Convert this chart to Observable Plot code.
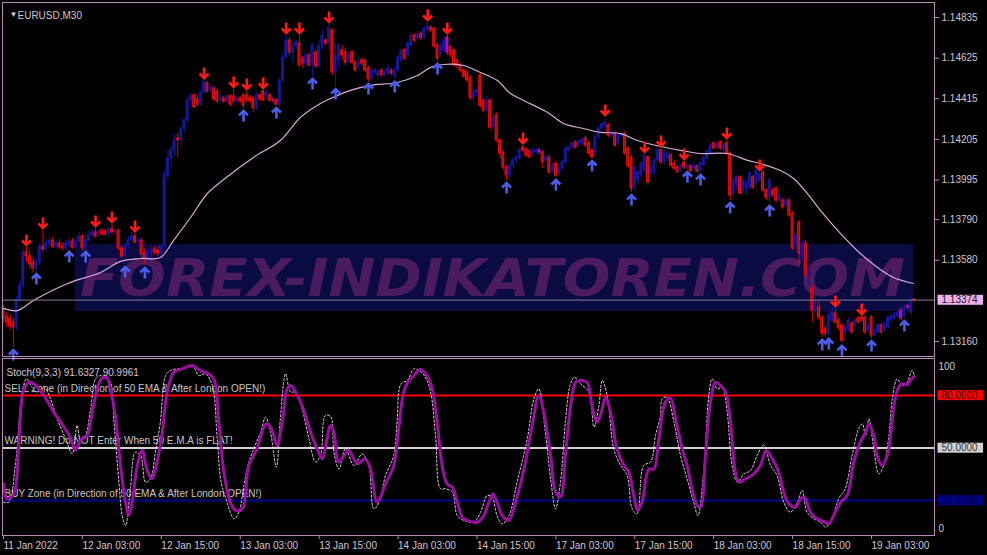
<!DOCTYPE html>
<html><head><meta charset="utf-8">
<script src="https://cdn.jsdelivr.net/npm/d3@7"></script>
<script src="https://cdn.jsdelivr.net/npm/@observablehq/plot@0.6"></script>
<style>
html,body{margin:0;padding:0;background:#000;}
#wrap{position:relative;width:987px;height:555px;background:#000;overflow:hidden;}
#wrap svg{position:absolute;left:0;}
</style></head><body><div id="wrap"></div>
<script>
// ---------- DATA (EURUSD M30, 11 Jan 2022 15:00 .. 19 Jan 2022 09:30) ----------
const symbolTitle = "EURUSD,M30";
const open = [
1.13331,1.13289,1.13279,1.13258,1.13232,1.13372,1.13449,1.13620,1.13600,1.13568,
1.13537,1.13568,1.13651,1.13636,1.13662,1.13682,1.13651,1.13667,1.13651,1.13641,
1.13656,1.13677,1.13646,1.13677,1.13703,1.13646,1.13682,1.13708,1.13724,1.13708,
1.13734,1.13729,1.13713,1.13739,1.13724,1.13734,1.13641,1.13600,1.13656,1.13682,
1.13703,1.13672,1.13682,1.13620,1.13589,1.13620,1.13636,1.13630,1.13615,1.13651,
1.14018,1.14106,1.14148,1.14210,1.14199,1.14261,1.14303,1.14406,1.14432,1.14411,
1.14385,1.14447,1.14494,1.14453,1.14468,1.14453,1.14406,1.14416,1.14401,1.14427,
1.14427,1.14401,1.14416,1.14432,1.14432,1.14421,1.14416,1.14365,1.14432,1.14453,
1.14427,1.14432,1.14411,1.14406,1.14385,1.14509,1.14628,1.14716,1.14654,1.14690,
1.14701,1.14623,1.14597,1.14639,1.14587,1.14654,1.14582,1.14690,1.14716,1.14701,
1.14768,1.14551,1.14613,1.14665,1.14654,1.14602,1.14654,1.14602,1.14571,1.14613,
1.14613,1.14571,1.14520,1.14551,1.14535,1.14561,1.14535,1.14546,1.14561,1.14530,
1.14561,1.14613,1.14665,1.14639,1.14690,1.14742,1.14727,1.14752,1.14732,1.14768,
1.14783,1.14778,1.14690,1.14649,1.14665,1.14732,1.14680,1.14665,1.14613,1.14587,
1.14561,1.14551,1.14525,1.14421,1.14447,1.14535,1.14406,1.14354,1.14406,1.14266,
1.14328,1.14199,1.14137,1.14060,1.14018,1.14070,1.14096,1.14106,1.14163,1.14153,
1.14142,1.14127,1.14137,1.14148,1.14137,1.14096,1.14111,1.14044,1.14080,1.14029,
1.14054,1.14085,1.14148,1.14163,1.14189,1.14173,1.14184,1.14210,1.14184,1.14148,
1.14132,1.14215,1.14261,1.14272,1.14277,1.14225,1.14235,1.14184,1.14220,1.14235,
1.14158,1.14111,1.13956,1.13992,1.14018,1.14044,1.14111,1.14029,1.14034,1.14096,
1.14148,1.14085,1.14106,1.14122,1.14080,1.14060,1.14044,1.14085,1.14060,1.14065,
1.14054,1.14065,1.14044,1.14070,1.14106,1.14132,1.14184,1.14163,1.14189,1.14148,
1.14184,1.14132,1.13925,1.13967,1.14008,1.13941,1.13956,1.13956,1.14008,1.13977,
1.13992,1.14034,1.13941,1.13904,1.13941,1.13951,1.13889,1.13889,1.13863,1.13889,
1.13822,1.13656,1.13775,1.13594,1.13667,1.13501,1.13434,1.13320,1.13336,1.13284,
1.13227,1.13201,1.13268,1.13305,1.13268,1.13243,1.13201,1.13217,1.13253,1.13243,
1.13279,1.13284,1.13284,1.13217,1.13284,1.13191,1.13207,1.13243,1.13217,1.13232,
1.13268,1.13279,1.13289,1.13320,1.13294,1.13336,1.13310,1.13377];
const high = [
1.13346,1.13310,1.13300,1.13279,1.13393,1.13475,1.13646,1.13646,1.13630,1.13589,
1.13589,1.13667,1.13734,1.13693,1.13703,1.13698,1.13682,1.13687,1.13672,1.13682,
1.13703,1.13693,1.13703,1.13724,1.13713,1.13713,1.13729,1.13739,1.13744,1.13739,
1.13744,1.13739,1.13755,1.13765,1.13749,1.13739,1.13651,1.13667,1.13703,1.13724,
1.13718,1.13698,1.13693,1.13641,1.13636,1.13651,1.13651,1.13651,1.13667,1.14044,
1.14148,1.14168,1.14230,1.14235,1.14266,1.14313,1.14421,1.14442,1.14442,1.14432,
1.14458,1.14509,1.14504,1.14489,1.14478,1.14463,1.14437,1.14427,1.14437,1.14437,
1.14463,1.14432,1.14427,1.14442,1.14453,1.14432,1.14427,1.14447,1.14442,1.14458,
1.14458,1.14442,1.14421,1.14416,1.14525,1.14649,1.14742,1.14732,1.14701,1.14716,
1.14742,1.14633,1.14649,1.14649,1.14701,1.14665,1.14716,1.14768,1.14727,1.14799,
1.14778,1.14701,1.14701,1.14690,1.14675,1.14654,1.14665,1.14613,1.14623,1.14628,
1.14623,1.14582,1.14571,1.14571,1.14566,1.14571,1.14566,1.14587,1.14571,1.14582,
1.14639,1.14675,1.14675,1.14711,1.14758,1.14752,1.14763,1.14763,1.14789,1.14809,
1.14794,1.14783,1.14701,1.14706,1.14732,1.14742,1.14690,1.14675,1.14623,1.14597,
1.14571,1.14561,1.14535,1.14463,1.14478,1.14546,1.14416,1.14427,1.14416,1.14339,
1.14344,1.14210,1.14148,1.14070,1.14080,1.14106,1.14122,1.14163,1.14173,1.14163,
1.14153,1.14163,1.14158,1.14158,1.14148,1.14122,1.14122,1.14085,1.14085,1.14070,
1.14096,1.14168,1.14173,1.14194,1.14199,1.14204,1.14215,1.14220,1.14194,1.14158,
1.14225,1.14272,1.14292,1.14318,1.14287,1.14261,1.14246,1.14235,1.14241,1.14246,
1.14168,1.14122,1.14070,1.14044,1.14091,1.14127,1.14122,1.14070,1.14106,1.14158,
1.14158,1.14148,1.14148,1.14132,1.14096,1.14070,1.14080,1.14091,1.14080,1.14075,
1.14080,1.14075,1.14091,1.14116,1.14148,1.14184,1.14194,1.14194,1.14199,1.14184,
1.14199,1.14142,1.14003,1.14018,1.14018,1.14003,1.13992,1.14039,1.14018,1.14054,
1.14034,1.14044,1.13951,1.14003,1.13951,1.13961,1.13925,1.13899,1.13899,1.13899,
1.13832,1.13718,1.13786,1.13682,1.13682,1.13553,1.13449,1.13382,1.13372,1.13294,
1.13238,1.13320,1.13346,1.13331,1.13279,1.13253,1.13243,1.13279,1.13263,1.13279,
1.13289,1.13289,1.13294,1.13253,1.13294,1.13227,1.13253,1.13253,1.13263,1.13294,
1.13300,1.13310,1.13320,1.13331,1.13346,1.13351,1.13393,1.13382];
const low = [
1.13258,1.13232,1.13217,1.13129,1.13217,1.13356,1.13434,1.13568,1.13537,1.13517,
1.13522,1.13553,1.13620,1.13620,1.13646,1.13641,1.13636,1.13636,1.13630,1.13630,
1.13636,1.13636,1.13636,1.13667,1.13630,1.13636,1.13672,1.13698,1.13693,1.13698,
1.13703,1.13703,1.13703,1.13713,1.13703,1.13630,1.13589,1.13558,1.13641,1.13662,
1.13662,1.13646,1.13594,1.13553,1.13568,1.13589,1.13605,1.13600,1.13600,1.13641,
1.13992,1.14060,1.14116,1.14111,1.14163,1.14235,1.14292,1.14370,1.14365,1.14370,
1.14375,1.14437,1.14442,1.14447,1.14401,1.14390,1.14396,1.14390,1.14390,1.14375,
1.14390,1.14385,1.14390,1.14365,1.14396,1.14390,1.14344,1.14354,1.14401,1.14401,
1.14416,1.14396,1.14390,1.14380,1.14370,1.14499,1.14613,1.14639,1.14597,1.14665,
1.14577,1.14571,1.14577,1.14577,1.14530,1.14571,1.14571,1.14665,1.14690,1.14665,
1.14535,1.14478,1.14577,1.14613,1.14587,1.14597,1.14592,1.14551,1.14561,1.14582,
1.14551,1.14504,1.14509,1.14540,1.14525,1.14530,1.14525,1.14535,1.14535,1.14515,
1.14551,1.14597,1.14613,1.14628,1.14680,1.14706,1.14716,1.14716,1.14721,1.14752,
1.14758,1.14675,1.14608,1.14633,1.14649,1.14639,1.14628,1.14577,1.14571,1.14551,
1.14520,1.14499,1.14406,1.14406,1.14427,1.14365,1.14344,1.14339,1.14251,1.14251,
1.14189,1.14106,1.14044,1.13992,1.14003,1.14054,1.14080,1.14096,1.14137,1.14111,
1.14106,1.14111,1.14127,1.14127,1.14054,1.14085,1.14023,1.14034,1.14008,1.14013,
1.14044,1.14075,1.14132,1.14153,1.14153,1.14163,1.14173,1.14163,1.14122,1.14106,
1.14122,1.14204,1.14246,1.14261,1.14215,1.14215,1.14163,1.14173,1.14215,1.14122,
1.14054,1.13930,1.13941,1.13972,1.14008,1.14034,1.13967,1.14018,1.14018,1.14085,
1.14070,1.14070,1.14085,1.14060,1.14044,1.14029,1.14034,1.14049,1.14049,1.14034,
1.14044,1.14034,1.14034,1.14060,1.14096,1.14122,1.14153,1.14158,1.14148,1.14137,
1.14122,1.13889,1.13915,1.13941,1.13915,1.13925,1.13925,1.13941,1.13941,1.13967,
1.13982,1.13930,1.13889,1.13874,1.13904,1.13879,1.13879,1.13842,1.13848,1.13801,
1.13630,1.13630,1.13553,1.13579,1.13475,1.13449,1.13258,1.13305,1.13268,1.13181,
1.13186,1.13186,1.13258,1.13248,1.13217,1.13150,1.13191,1.13207,1.13196,1.13232,
1.13253,1.13258,1.13196,1.13207,1.13175,1.13186,1.13201,1.13196,1.13207,1.13227,
1.13258,1.13268,1.13279,1.13268,1.13279,1.13325,1.13294,1.13362];
const close = [
1.13279,1.13258,1.13238,1.13232,1.13372,1.13449,1.13620,1.13600,1.13558,1.13537,
1.13568,1.13651,1.13636,1.13667,1.13682,1.13651,1.13667,1.13646,1.13641,1.13667,
1.13677,1.13646,1.13677,1.13703,1.13646,1.13682,1.13708,1.13724,1.13703,1.13729,
1.13713,1.13713,1.13739,1.13724,1.13734,1.13641,1.13600,1.13656,1.13682,1.13703,
1.13672,1.13682,1.13610,1.13589,1.13620,1.13636,1.13620,1.13615,1.13651,1.14018,
1.14106,1.14148,1.14199,1.14199,1.14261,1.14303,1.14406,1.14432,1.14370,1.14385,
1.14447,1.14499,1.14453,1.14473,1.14411,1.14401,1.14421,1.14401,1.14427,1.14385,
1.14401,1.14416,1.14401,1.14380,1.14406,1.14401,1.14365,1.14432,1.14411,1.14406,
1.14447,1.14406,1.14406,1.14385,1.14509,1.14628,1.14716,1.14654,1.14690,1.14706,
1.14587,1.14597,1.14639,1.14587,1.14690,1.14582,1.14690,1.14742,1.14701,1.14778,
1.14551,1.14639,1.14690,1.14639,1.14602,1.14639,1.14602,1.14561,1.14602,1.14597,
1.14561,1.14515,1.14561,1.14561,1.14556,1.14535,1.14551,1.14571,1.14546,1.14561,
1.14628,1.14665,1.14623,1.14701,1.14742,1.14716,1.14747,1.14727,1.14778,1.14789,
1.14768,1.14685,1.14623,1.14690,1.14716,1.14654,1.14639,1.14587,1.14582,1.14561,
1.14530,1.14509,1.14421,1.14447,1.14458,1.14380,1.14354,1.14406,1.14266,1.14313,
1.14199,1.14132,1.14060,1.14018,1.14070,1.14096,1.14111,1.14148,1.14148,1.14122,
1.14111,1.14148,1.14148,1.14137,1.14085,1.14111,1.14034,1.14070,1.14018,1.14054,
1.14085,1.14158,1.14163,1.14184,1.14163,1.14194,1.14204,1.14173,1.14132,1.14111,
1.14215,1.14261,1.14282,1.14292,1.14225,1.14241,1.14173,1.14225,1.14230,1.14132,
1.14065,1.13951,1.14060,1.14034,1.14080,1.14122,1.13982,1.14060,1.14096,1.14148,
1.14085,1.14137,1.14132,1.14070,1.14054,1.14034,1.14070,1.14060,1.14070,1.14039,
1.14070,1.14039,1.14080,1.14106,1.14142,1.14173,1.14158,1.14184,1.14158,1.14179,
1.14132,1.13915,1.13992,1.14008,1.13925,1.13992,1.13977,1.14029,1.13956,1.14044,
1.14023,1.13941,1.13904,1.13992,1.13915,1.13889,1.13910,1.13853,1.13889,1.13811,
1.13646,1.13708,1.13615,1.13667,1.13501,1.13537,1.13320,1.13372,1.13284,1.13201,
1.13201,1.13294,1.13310,1.13258,1.13232,1.13165,1.13232,1.13268,1.13207,1.13268,
1.13258,1.13268,1.13207,1.13243,1.13191,1.13217,1.13243,1.13207,1.13253,1.13284,
1.13289,1.13300,1.13310,1.13279,1.13331,1.13341,1.13377,1.13374];
const magentaBars = [82, 135, 163, 273, 275];
const downArrowBars = [7,12,28,33,40,61,70,74,79,86,90,99,129,135,158,183,195,200,207,220,230,253,261];
const upArrowBars = [3,10,20,25,37,43,73,83,94,101,111,119,132,153,168,179,191,208,212,221,233,249,251,255,264,274];
// 50 EMA (bar index, price)
const emaBar = [0,4.3,9.1,19.5,29.5,35.6,41.7,47.7,51.7,56.9,62,66.6,76,84.2,90.3,96.4,99.5,105.5,111.6,119.8,125.9,129.9,133.8,139.9,145.1,150.2,154.2,158.2,165.5,170.3,176.4,181.6,187.7,192.8,199.8,205.9,212,220.2,226.3,230.2,236.3,240.3,244.5,248.5,254.6,260.6,265.8,270.7,276.8];
const emaVal = [1.13331,1.13320,1.13372,1.13460,1.13517,1.13574,1.13589,1.13594,1.13682,1.13801,1.13925,1.13992,1.14111,1.14199,1.14318,1.14390,1.14416,1.14458,1.14484,1.14499,1.14535,1.14577,1.14592,1.14587,1.14551,1.14509,1.14442,1.14406,1.14344,1.14287,1.14261,1.14241,1.14235,1.14199,1.14168,1.14148,1.14132,1.14132,1.14096,1.14080,1.14044,1.14003,1.13925,1.13837,1.13718,1.13615,1.13543,1.13491,1.13460];
const priceTicks = [1.14835,1.14625,1.14415,1.14205,1.13995,1.13790,1.13580,1.13160];
const lastPrice = 1.13374;

// Stochastic (9,3,3): signal line (solid) and main line (dotted), as (bar, value)
const sigBar = [0,1,3,4.7,6,7.7,9.2,12.3,15.3,18.4,20.4,21.9,23.4,25.4,27,28.5,30,31.5,32.5,34,35.6,37.1,38.1,39.1,40.7,42.2,43.7,45.2,46.7,48.3,49.8,51.8,54.3,57.4,59.9,62.4,64,65.5,67,69,70.6,72.6,74.6,77.1,79.2,80.2,81.7,83.2,84.8,86.3,87.5,88.8,90.8,93.4,95.4,96.9,98.4,99.4,100.5,102,105,107.6,110,111.6,113.6,114.7,116.2,118.7,120.2,121.7,123.3,124.8,126.8,128.8,130.4,131.9,133.4,134.9,136.5,138,139.5,141,144.1,146.1,147.6,148.9,150.1,151.7,153.7,155.7,158.3,160.8,162.8,164.3,166.4,167.9,169.4,170.9,172.5,174,175.5,177.5,179,180.6,182.1,183.1,184.6,186.6,188.7,190.2,191.7,192.9,194.2,196.3,197.8,199.3,201.3,202.9,204.4,206.4,207.9,209.4,211,212,213.5,215,216.5,218.1,219.6,221.1,222.6,223.7,225.7,228.2,230.2,232,233.8,235.8,237.3,238.8,240.9,242.4,243.6,245.4,247.5,249.5,251,252.5,254.6,256.6,258.6,260.6,262.2,263.2,264.7,265.7,267.2,268.8,269.8,270.8,272,273.3,274.8,275.8,277];
const sigVal = [29.5,21,23,55,82,87.6,86.7,80,70.5,62,56,48.6,54.3,57,70.5,83.8,90,90,83.8,68.6,40,19,11.4,19,40,48.6,37,32.4,42,59,82,93.3,95.2,97.1,94.3,92.4,89.5,64.8,36.2,19,14.3,15.2,40,49.5,62,63.8,60,51.4,64.8,83.8,85.7,82,74.3,59,49.5,43.8,55.2,62.9,59,42,48.6,41,43.8,38,19,22,29.5,40,61,82,88.6,91.4,94.9,91.4,83.8,64.8,40,29.5,27.6,19,10.5,8.6,7.6,11.4,19,23.8,19,11.4,8.6,19,38,62.9,80,70.5,45.7,24.8,22,45.7,74.3,87.6,88.6,87.6,74.3,64.8,72.4,79,70.5,49.5,40,36.2,22.8,14.3,19,38,38,55.2,76.2,78.5,66.7,49.5,40,26.7,17.1,16.2,45.7,76.2,87.6,85.7,82,64.8,36.2,30.5,32.4,35.2,40,48.6,43.8,36.2,24.8,18.1,16.2,21,21.9,13.3,9.5,8,6.7,11.4,19,22.8,42,53.4,59,63.8,57.1,45.7,40,45.7,57.1,74.3,83.8,86.7,86.1,88.6,91];
const mainBar = [0,1.6,3.6,5.7,7,8.7,10.2,12.3,14.3,16.3,18.9,20.9,22.4,23.4,24.9,26.5,28,29.5,31,32.5,33.6,35.1,36.1,37.1,38.6,40.1,41.7,43.2,44.7,46.2,47.7,49.3,50.8,52.8,55.4,57.4,59.4,61.4,63.5,65,66.2,68,70.1,71.6,73.1,74.6,76.1,78.2,79.7,81.2,83,84.2,85.8,87.3,88.8,90.8,92.9,94.9,96.4,97.9,99.5,100.5,102,104,106.6,109.1,111.1,112.6,114.2,116.2,118.7,119.7,120.9,122.8,124.8,126.3,128.3,129.9,131.4,132.9,134.4,136.5,138,140,143,145.1,147.1,148.6,150.1,151.7,153.7,156.2,159.3,161.3,162.8,164.8,166.4,167.9,169.4,170.9,172.3,173.6,175.5,178,179.6,181.1,182.1,183.6,185.6,187.7,189.7,191.2,192.7,194.7,196.8,198.3,199.8,200.3,201.8,203.9,205.9,207.9,209.9,211.2,213,214.5,215.5,217.1,218.6,220.1,221.6,223.2,225.2,227.2,229.2,231.2,233.3,235.3,237.3,239.3,241.4,242.9,244.4,246.5,248.5,250,252,254,256,258.1,260.1,261.2,262.2,263.2,264.7,266.2,267.7,269.3,270.3,271.8,273.3,274.8,276.3,277];
const mainVal = [19,19,40,82,89.5,84.8,82,84.8,78,66.7,55.2,46.7,62.9,54.3,57.1,72.4,89.5,91.4,90.5,87.6,64.8,30.5,11.4,5.7,26.7,47.6,45.7,30.5,32.4,47.6,64.8,91.4,94.3,95.2,95.6,97.5,91.4,92.4,85.7,55.2,30.5,19,9.5,13.3,28.6,42,49.5,59,67.6,59,39,66.7,92.4,82,82,72.4,55.2,42,45.7,68.6,68,47.6,38,49.5,40,46.7,40,15.2,19,34.3,45.7,64.8,86.7,88.6,95.2,94.3,90.5,82,57.1,26.7,26.7,24.8,11.4,8.6,7.6,13.3,22.8,21.9,11.4,6.7,11.4,30.5,55.2,78,83.8,59,32.4,15.2,30.5,64.8,85.7,90.5,86.7,82,62,74.3,88.6,80,49.5,40,34.3,15.2,12.4,40,42,57.1,68.6,78,79,64.8,45.7,32.4,19,11.4,38,80,89.5,83.8,84.8,70.5,40,30.5,35.2,37.1,45.7,51.8,40,34.3,19,13.3,19,25.7,13.3,9.5,7.6,4.8,9.5,21,26.7,45.7,61,63.8,57.1,66.7,49.5,35.2,40,57.1,78,89.5,85.7,87.6,94.3,91.6];
const stochHeader = "Stoch(9,3,3) 91.6327 90.9961";
const levelVals = [80, 50, 20];
const levelColors = ["#ff0000", "#d0d0d0", "#00008c"];
const levelTextColors = ["#3a0000", "#383838", "#000038"];
const zoneTexts = ["SELL Zone (in Direction of 50 EMA & After London OPEN!)", "WARNING! Do NOT Enter When 50 E.M.A is FLAT!", "BUY Zone (in Direction of 50 EMA & After London OPEN!)"];
const tickBars = [0,24,48,72,96,120,144,168,192,216,240,264];
const tickLabels = ["11 Jan 2022","12 Jan 03:00","12 Jan 15:00","13 Jan 03:00","13 Jan 15:00","14 Jan 03:00","14 Jan 15:00","17 Jan 03:00","17 Jan 15:00","18 Jan 03:00","18 Jan 15:00","19 Jan 03:00"];
const watermarkText = "FOREX-INDIKATOREN.COM";

// ---------- DRAWING ----------
const W = 987;
const FRAME = "#b48cb4", TXT = "#d4c4d4";
const FONT = "'Liberation Sans', Arial, sans-serif";
const xDomain = [-0.304, 283.15];
const bars = close.map((c, i) => ({i, o: open[i], h: high[i], l: low[i], c}));
const kind = d => magentaBars.includes(d.i) ? "m" : (d.c >= d.o ? "up" : "dn");
const wickCol = {up: "#17179a", dn: "#e00000", m: "#c400c4"};
const bodyFill = {up: "#17179a", dn: "#b00000", m: "#c400c4"};
const bodyStroke = {up: "#17179a", dn: "#ea1010", m: "#c400c4"};
const emaData = emaBar.map((b, k) => ({b, v: emaVal[k]}));
const sigData = sigBar.map((b, k) => ({b, v: sigVal[k]}));
const mainData = mainBar.map((b, k) => ({b, v: mainVal[k]}));
const style = {background: "transparent", fontFamily: FONT, overflow: "visible"};

// arrow glyphs (tip at the symbol origin)
const arrowDown = {draw(ctx) { ctx.moveTo(0, -11); ctx.lineTo(0, -1); ctx.moveTo(-4.5, -5); ctx.lineTo(0, -0.5); ctx.lineTo(4.5, -5); }};
const arrowUp = {draw(ctx) { ctx.moveTo(0, 11); ctx.lineTo(0, 1); ctx.moveTo(-4.5, 5); ctx.lineTo(0, 0.5); ctx.lineTo(4.5, 5); }};

const mainPlot = Plot.plot({
  width: W, height: 357, marginLeft: 2, marginRight: 53, marginTop: 2, marginBottom: 1,
  style,
  color: {type: "identity"},
  x: {domain: xDomain, axis: null},
  y: {domain: [1.130824, 1.149125], axis: null},
  marks: [
    Plot.ruleX(bars, {x: "i", y1: "l", y2: "h", stroke: d => wickCol[kind(d)], strokeWidth: 1}),
    Plot.rect(bars, {x1: d => d.i - 0.3, x2: d => d.i + 0.3, y1: "o", y2: "c",
      fill: d => bodyFill[kind(d)], stroke: d => bodyStroke[kind(d)], strokeWidth: 1}),
    Plot.line(emaData, {x: "b", y: "v", stroke: "#d9aad9", strokeWidth: 1.2, curve: "catmull-rom"}),
    Plot.ruleY([lastPrice], {stroke: "#7f7f98", strokeWidth: 1}),
    Plot.dot(downArrowBars, {x: i => i, y: i => high[i], dy: -2, symbol: arrowDown, r: 5,
      fill: "none", stroke: "#ff1a1a", strokeWidth: 2.6, strokeLinejoin: "miter", strokeLinecap: "butt"}),
    Plot.dot(upArrowBars, {x: i => i, y: i => low[i], dy: 2, symbol: arrowUp, r: 5,
      fill: "none", stroke: "#4c5ce8", strokeWidth: 2.6, strokeLinejoin: "miter", strokeLinecap: "butt"}),
    Plot.frame({stroke: FRAME}),
    Plot.axisY(priceTicks, {anchor: "right", tickFormat: d => d.toFixed(5), tickSize: 4, tickPadding: 3,
      fontSize: 10, fill: TXT, stroke: FRAME, label: null}),
    Plot.text([lastPrice], {y: d => d, frameAnchor: "right", dx: 7, textAnchor: "start",
      text: d => d.toFixed(5), fill: "#1a1a1a", fontSize: 10}),
    Plot.text([symbolTitle], {frameAnchor: "top-left", dx: 15, dy: 9, textAnchor: "start", fill: TXT, fontSize: 10}),
    Plot.text(["\u25BC"], {frameAnchor: "top-left", dx: 7, dy: 8.5, fill: TXT, fontSize: 8})
  ]
});

const stochPlot = Plot.plot({
  width: W, height: 198, marginLeft: 2, marginRight: 53, marginTop: 1, marginBottom: 20,
  style,
  color: {type: "identity"},
  x: {domain: xDomain, axis: null},
  y: {domain: [0, 100], range: [178, 3], axis: null},
  marks: [
    Plot.ruleY(levelVals, {y: d => d, stroke: (d, i) => levelColors[i], strokeWidth: 2}),
    Plot.text(zoneTexts, {y: (d, i) => levelVals[i], frameAnchor: "left", dx: 2, dy: -7, textAnchor: "start",
      fill: "#c6c6c6", fontSize: 10}),
    Plot.line(mainData, {x: "b", y: "v", stroke: "#e8d0e8", strokeWidth: 1, strokeDasharray: "2,2", curve: "catmull-rom"}),
    Plot.line(sigData, {x: "b", y: "v", stroke: "#9a0ea0", strokeWidth: 3, curve: "catmull-rom"}),
    Plot.frame({stroke: FRAME}),
    Plot.axisX(tickBars, {anchor: "bottom", tickSize: 4, tickPadding: 2, textAnchor: "start",
      tickFormat: d => tickLabels[tickBars.indexOf(d)], fontSize: 10, fill: TXT, stroke: FRAME, label: null}),
    Plot.text([stochHeader], {frameAnchor: "top-left", dx: 4, dy: 10, textAnchor: "start", fill: TXT, fontSize: 10}),
    Plot.text(levelVals, {y: d => d, frameAnchor: "right", dx: 7, textAnchor: "start",
      text: d => d.toFixed(4), fill: (d, i) => levelTextColors[i], fontSize: 10}),
    Plot.text([100], {y: d => d, frameAnchor: "right", dx: 4, dy: 6, textAnchor: "start", text: d => String(d), fill: TXT, fontSize: 10}),
    Plot.text([0], {y: d => d, frameAnchor: "right", dx: 4, dy: -7, textAnchor: "start", text: d => String(d), fill: TXT, fontSize: 10})
  ]
});

// watermark (drawn behind the price chart)
const wm = d3.create("svg").attr("width", W).attr("height", 357)
  .style("position", "absolute").style("left", "0px").style("top", "0px");
wm.append("rect").attr("x", 75).attr("y", 244).attr("width", 838).attr("height", 67).attr("fill", "#0b0b44");
wm.append("text").attr("x", 80).attr("y", 296).attr("font-family", "DejaVu Sans").attr("font-weight", "bold")
  .attr("font-style", "italic").attr("font-size", 52).attr("textLength", 825).attr("lengthAdjust", "spacingAndGlyphs")
  .attr("fill", "#4a1c5f").text(watermarkText);

const wrap = document.getElementById("wrap");
mainPlot.style.position = "absolute"; mainPlot.style.top = "0px";
stochPlot.style.position = "absolute"; stochPlot.style.top = "357px";
wrap.append(wm.node(), mainPlot, stochPlot);

function addBox(svg, str, fill, pl, pr, pt, pb) {
  for (const t of svg.querySelectorAll("text")) {
    if (t.textContent === str) {
      const bb = t.getBBox();
      const r = document.createElementNS("http://www.w3.org/2000/svg", "rect");
      r.setAttribute("x", bb.x - pl); r.setAttribute("y", bb.y - pt);
      r.setAttribute("width", bb.width + pl + pr); r.setAttribute("height", bb.height + pt + pb);
      r.setAttribute("fill", fill);
      const tr = t.getAttribute("transform"); if (tr) r.setAttribute("transform", tr);
      t.parentNode.insertBefore(r, t);
    }
  }
}
addBox(mainPlot, lastPrice.toFixed(5), "#efb1ee", 4, 5, -0.5, -0.5);
levelVals.forEach((v, i) => addBox(stochPlot, v.toFixed(4), levelColors[i], 4, 5, -0.5, -0.5));
</script>
</body></html>
